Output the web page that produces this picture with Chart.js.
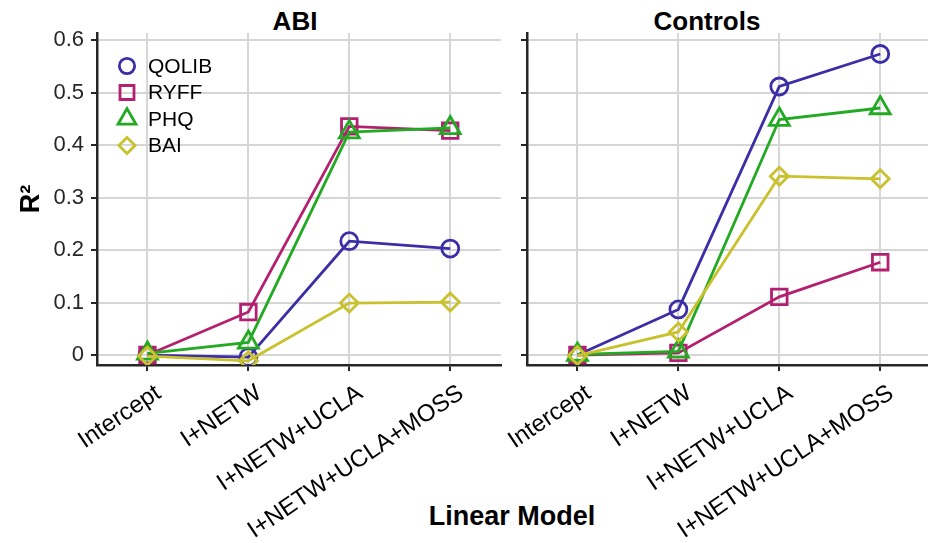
<!DOCTYPE html>
<html>
<head>
<meta charset="utf-8">
<script src="https://cdn.jsdelivr.net/npm/chart.js@4.4.1/dist/chart.umd.min.js"></script>
<style>
  body { margin: 0; width: 928px; height: 543px; overflow: hidden; background: #fff; position: relative; font-family: "Liberation Sans", Arial, sans-serif; }
  canvas { position: absolute; top: 0; }
  .lbl { position: absolute; font-weight: bold; color: #000; text-align: center; white-space: nowrap; }
</style>
</head>
<body>
<div class="lbl" style="left:195px;top:8px;width:200px;font-size:26px;line-height:26px;">ABI</div>
<div class="lbl" style="left:607px;top:8px;width:200px;font-size:26px;line-height:26px;">Controls</div>
<div class="lbl" style="left:362px;top:503px;width:300px;font-size:27px;line-height:27px;">Linear Model</div>
<canvas id="abiChart" width="515" height="543" style="left:0px"></canvas>
<canvas id="ctlChart" width="460" height="543" style="left:485px"></canvas>
<script>
let categories = ['Intercept', 'I+NETW', 'I+NETW+UCLA', 'I+NETW+UCLA+MOSS'];
let seriesNames = ['QOLIB', 'RYFF', 'PHQ', 'BAI'];
let yTicks = [0, 0.1, 0.2, 0.3, 0.4, 0.5, 0.6];

// ABI group
let abiQolib = [0, -0.004, 0.217, 0.203];
let abiRyff = [0, 0.082, 0.436, 0.428];
let abiPhq = [0.003, 0.024, 0.425, 0.433];
let abiBai = [-0.002, -0.011, 0.099, 0.101];

// Controls group
let ctlQolib = [0, 0.087, 0.512, 0.574];
let ctlRyff = [0, 0.004, 0.111, 0.177];
let ctlPhq = [0.001, 0.007, 0.449, 0.471];
let ctlBai = [-0.001, 0.044, 0.341, 0.336];

let colors = ['#3b2ea6', '#b3206f', '#22aa22', '#c9c12e'];
let markers = ['circle', 'rect', 'triangle', 'rectRot'];
let markerSizes = [8.5, 11, 11.5, 9];

const font = '"Liberation Sans", Arial, sans-serif';
const axisColor = '#262626';
const gridColor = '#d6d6d6';

function makeDatasets(groups) {
    return groups.map((vals, i) => ({
        label: seriesNames[i],
        data: vals,
        borderColor: colors[i],
        backgroundColor: 'rgba(0,0,0,0)',
        borderWidth: 2.8,
        pointStyle: markers[i],
        pointRadius: markerSizes[i],
        pointBorderWidth: 2.8,
        pointBackgroundColor: 'rgba(0,0,0,0)',
        tension: 0,
        order: 3 - i
    }));
}

// legend drawn inside the plot area, top-left
const innerLegend = {
    id: 'innerLegend',
    afterDatasetsDraw(chart) {
        const ctx = chart.ctx;
        const area = chart.chartArea;
        ctx.save();
        chart.data.datasets.forEach((ds, i) => {
            const y = area.top + 33 + i * 26.5;
            ctx.strokeStyle = ds.borderColor;
            ctx.fillStyle = 'rgba(0,0,0,0)';
            ctx.lineWidth = 2.8;
            Chart.helpers.drawPoint(ctx, {
                pointStyle: ds.pointStyle, radius: ds.pointRadius * 0.9, borderWidth: 2.8, rotation: 0
            }, area.left + 30, y);
            ctx.fillStyle = '#000';
            ctx.font = '21px ' + font;
            ctx.textBaseline = 'middle';
            ctx.textAlign = 'left';
            ctx.fillText(ds.label, area.left + 51, y + 1);
        });
        ctx.restore();
    }
};

function makeOptions(isLeft) {
    return {
        responsive: false,
        animation: false,
        devicePixelRatio: 1,
        layout: { padding: { top: 33, right: 8, bottom: 0, left: 0 } },
        plugins: { legend: { display: false }, tooltip: { enabled: false } },
        scales: {
            x: {
                type: 'category',
                offset: true,
                grid: { offset: false, color: gridColor, lineWidth: 2, tickColor: axisColor, tickLength: 6, tickWidth: 2 },
                border: { color: axisColor, width: 2.5 },
                ticks: {
                    autoSkip: false, minRotation: 34, maxRotation: 34,
                    padding: 8, labelOffset: 11,
                    color: '#000', font: { family: font, size: 24 }
                },
                afterFit(scale) {
                    scale.height = 178;
                    scale.paddingLeft = 0;
                    scale.paddingRight = 0;
                }
            },
            y: {
                min: -0.019,
                max: 0.614,
                grid: { color: gridColor, lineWidth: 2, tickColor: axisColor, tickLength: 6, tickWidth: 2 },
                border: { color: axisColor, width: 2.5 },
                afterBuildTicks(scale) {
                    scale.ticks = yTicks.map(v => ({ value: v }));
                },
                ticks: {
                    display: isLeft,
                    padding: 7,
                    color: '#262626',
                    font: { family: font, size: 22 },
                    callback: v => v === 0 ? '0' : v.toFixed(1)
                },
                title: {
                    display: isLeft,
                    text: 'R²',
                    color: '#000',
                    font: { family: font, size: 27, weight: 'bold' },
                    padding: { top: 15, bottom: 0 }
                },
                afterFit(scale) {
                    scale.width = isLeft ? 97 : 42;
                    scale.paddingTop = 0;
                    scale.paddingBottom = 0;
                }
            }
        }
    };
}

new Chart(document.getElementById('abiChart').getContext('2d'), {
    type: 'line',
    data: { labels: categories, datasets: makeDatasets([abiQolib, abiRyff, abiPhq, abiBai]) },
    options: makeOptions(true),
    plugins: [innerLegend]
});

new Chart(document.getElementById('ctlChart').getContext('2d'), {
    type: 'line',
    data: { labels: categories, datasets: makeDatasets([ctlQolib, ctlRyff, ctlPhq, ctlBai]) },
    options: makeOptions(false)
});
</script>
</body>
</html>
